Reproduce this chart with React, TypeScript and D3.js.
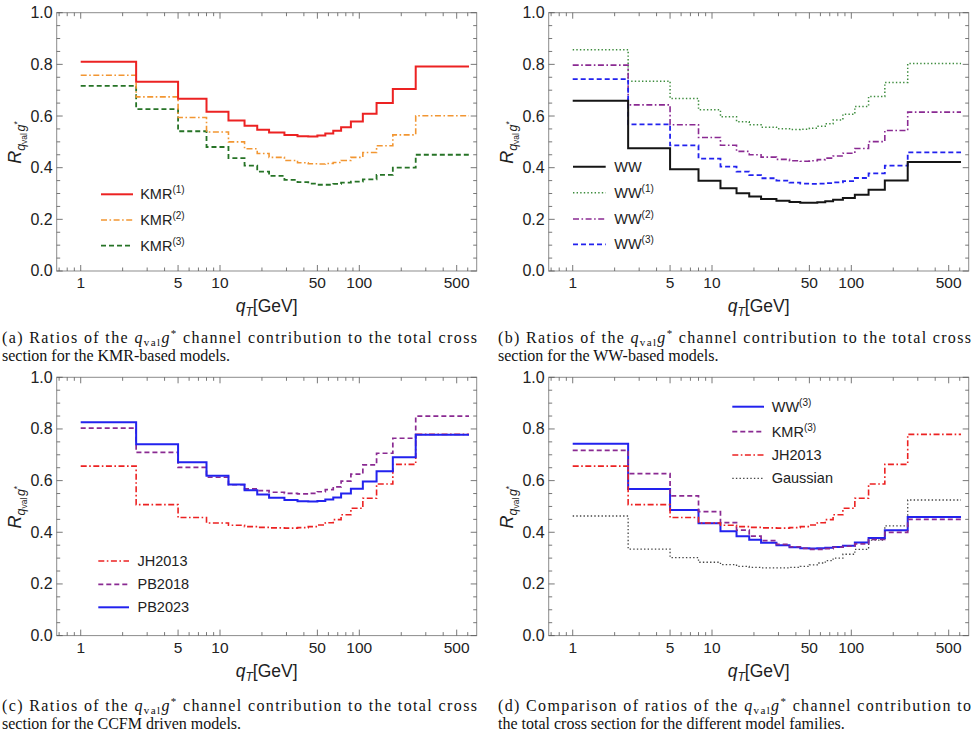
import React from "react";
import * as d3 from "d3";

// Bin edges of the q_T histogram (GeV); each series holds one value per bin.
const qtEdges = [1, 2.5, 5, 8, 11.5, 15, 18.5, 22.5, 29, 36, 43, 50, 57, 65, 74, 87, 106, 133, 174, 254, 613];

const kmr1 = [0.810, 0.733, 0.667, 0.617, 0.583, 0.562, 0.547, 0.536, 0.527, 0.522, 0.521, 0.525, 0.532, 0.543, 0.557, 0.579, 0.609, 0.650, 0.705, 0.792];
const kmr2 = [0.758, 0.674, 0.594, 0.538, 0.500, 0.473, 0.455, 0.440, 0.428, 0.419, 0.415, 0.414, 0.416, 0.420, 0.428, 0.440, 0.459, 0.485, 0.527, 0.601];
const kmr3 = [0.717, 0.627, 0.541, 0.480, 0.437, 0.408, 0.385, 0.368, 0.353, 0.344, 0.338, 0.334, 0.334, 0.337, 0.342, 0.346, 0.355, 0.372, 0.400, 0.450];

const ww = [0.659, 0.475, 0.394, 0.349, 0.320, 0.301, 0.288, 0.279, 0.272, 0.267, 0.264, 0.264, 0.266, 0.270, 0.276, 0.283, 0.295, 0.315, 0.350, 0.422];
const ww1 = [0.857, 0.735, 0.668, 0.624, 0.597, 0.578, 0.566, 0.557, 0.551, 0.548, 0.549, 0.553, 0.560, 0.570, 0.585, 0.607, 0.637, 0.676, 0.730, 0.803];
const ww2 = [0.797, 0.643, 0.566, 0.517, 0.487, 0.463, 0.450, 0.441, 0.432, 0.427, 0.425, 0.427, 0.431, 0.437, 0.445, 0.456, 0.474, 0.501, 0.544, 0.615];
const ww3 = [0.743, 0.568, 0.486, 0.435, 0.404, 0.385, 0.371, 0.359, 0.350, 0.342, 0.338, 0.337, 0.338, 0.340, 0.343, 0.348, 0.360, 0.378, 0.408, 0.459];

const pb2023 = [0.826, 0.741, 0.671, 0.619, 0.585, 0.563, 0.546, 0.534, 0.525, 0.520, 0.519, 0.521, 0.527, 0.535, 0.550, 0.569, 0.597, 0.636, 0.690, 0.778];
const pb2018 = [0.803, 0.709, 0.651, 0.613, 0.584, 0.568, 0.561, 0.555, 0.551, 0.549, 0.551, 0.557, 0.565, 0.576, 0.598, 0.625, 0.661, 0.706, 0.764, 0.850];
const jh2013 = [0.656, 0.507, 0.457, 0.436, 0.427, 0.422, 0.419, 0.417, 0.416, 0.418, 0.422, 0.428, 0.437, 0.449, 0.468, 0.493, 0.532, 0.587, 0.663, 0.779];
const gaussian = [0.463, 0.335, 0.302, 0.284, 0.275, 0.268, 0.264, 0.262, 0.262, 0.264, 0.268, 0.274, 0.281, 0.290, 0.300, 0.315, 0.334, 0.370, 0.425, 0.525];

const xMajorTicks = [1, 5, 10, 50, 100, 500];
const xMinorTicks = [0.7, 0.8, 0.9, 2, 3, 4, 6, 7, 8, 9, 20, 30, 40, 60, 70, 80, 90, 200, 300, 400, 600];
const yMajorTicks = [0, 0.2, 0.4, 0.6, 0.8, 1.0];
const yMinorTicks = d3.range(0, 1.0001, 0.05).filter((v) => Math.abs(v * 5 - Math.round(v * 5)) > 1e-6);

const W = 977;
const H = 754;
const PW = 420;
const PH = 258.3;
const SANS = "'Liberation Sans', Arial, sans-serif";
const SERIF = "'Liberation Serif', 'DejaVu Serif', serif";

const DASHDOT = "6,2.5,1.6,2.5";
const DASH = "5,3";
const DOT = "1.4,2.2";

type Series = {
  label: string;
  sup?: string;
  values: number[];
  color: string;
  width: number;
  dash?: string;
};

type PanelSpec = {
  x: number;
  y: number;
  series: Series[];
  legend: { x0: number; x1: number; tx: number; rows: number[]; order: number[] };
  caption: { tag: string; post1: string; line2: string };
};

const RED = "#ec2222";
const PURPLE = "#8a2a92";
const BLUE = "#2222ee";

const panels: PanelSpec[] = [
  {
    x: 56.7,
    y: 12.7,
    series: [
      { label: "KMR", sup: "(3)", values: kmr3, color: "#267326", width: 1.8, dash: DASH },
      { label: "KMR", sup: "(2)", values: kmr2, color: "#f29632", width: 1.6, dash: DASHDOT },
      { label: "KMR", sup: "(1)", values: kmr1, color: RED, width: 2 },
    ],
    legend: { x0: 44.3, x1: 76.3, tx: 83.5, rows: [181.6, 207.3, 233], order: [2, 1, 0] },
    caption: {
      tag: "(a) Ratios of the ",
      post1: " channel contribution to the total cross",
      line2: "section for the KMR-based models.",
    },
  },
  {
    x: 548.7,
    y: 12.7,
    series: [
      { label: "WW", sup: "(1)", values: ww1, color: "#3d8c3d", width: 1.5, dash: DOT },
      { label: "WW", sup: "(2)", values: ww2, color: PURPLE, width: 1.6, dash: DASHDOT },
      { label: "WW", sup: "(3)", values: ww3, color: BLUE, width: 1.8, dash: DASH },
      { label: "WW", values: ww, color: "#151515", width: 2 },
    ],
    legend: { x0: 24.3, x1: 57, tx: 65.5, rows: [154, 180, 206.3, 231.6], order: [3, 0, 1, 2] },
    caption: {
      tag: "(b) Ratios of the ",
      post1: " channel contribution to the total cross",
      line2: "section for the WW-based models.",
    },
  },
  {
    x: 56.7,
    y: 377.3,
    series: [
      { label: "JH2013", values: jh2013, color: RED, width: 1.6, dash: DASHDOT },
      { label: "PB2018", values: pb2018, color: PURPLE, width: 1.7, dash: DASH },
      { label: "PB2023", values: pb2023, color: BLUE, width: 2 },
    ],
    legend: { x0: 41.6, x1: 72.3, tx: 80.8, rows: [183.7, 207, 230], order: [0, 1, 2] },
    caption: {
      tag: "(c) Ratios of the ",
      post1: " channel contribution to the total cross",
      line2: "section for the CCFM driven models.",
    },
  },
  {
    x: 548.7,
    y: 377.3,
    series: [
      { label: "Gaussian", values: gaussian, color: "#444444", width: 1.3, dash: DOT },
      { label: "WW", sup: "(3)", values: ww3, color: BLUE, width: 2 },
      { label: "KMR", sup: "(3)", values: kmr3, color: PURPLE, width: 1.7, dash: DASH },
      { label: "JH2013", values: jh2013, color: RED, width: 1.6, dash: DASHDOT },
    ],
    legend: { x0: 183.6, x1: 215.3, tx: 223, rows: [29.4, 54.4, 77.7, 101], order: [1, 2, 3, 0] },
    caption: {
      tag: "(d) Comparison of ratios of the ",
      post1: " channel contribution to",
      line2: "the total cross section for the different model families.",
    },
  },
];

const xScale = d3.scaleLog().domain([0.6725, 696]).range([0, PW]);
const yScale = d3.scaleLinear().domain([0, 1]).range([PH, 0]);

const stepLine = d3
  .line<[number, number]>()
  .x((d) => xScale(d[0]))
  .y((d) => yScale(d[1]))
  .curve(d3.curveStepAfter);

function stepPath(values: number[]): string {
  const pts: [number, number][] = qtEdges.map((e, i) => [e, values[Math.min(i, values.length - 1)]]);
  return stepLine(pts) || "";
}

const FRAME = "#8c8c8c";
const TICK = "#555";
const LABEL = "#222";

function Axes() {
  const majLen = 6;
  const minLen = 3.5;
  const xTicks = [
    ...xMajorTicks.map((v) => ({ v, len: majLen })),
    ...xMinorTicks.map((v) => ({ v, len: minLen })),
  ];
  const yTicks = [
    ...yMajorTicks.map((v) => ({ v, len: majLen })),
    ...yMinorTicks.map((v) => ({ v, len: minLen })),
  ];
  return (
    <g>
      <rect x={0} y={0} width={PW} height={PH} fill="none" stroke={FRAME} strokeWidth={1} />
      {xTicks.map((t, i) => {
        const x = xScale(t.v);
        return (
          <g key={"x" + i} stroke={TICK} strokeWidth={0.8}>
            <line x1={x} x2={x} y1={PH} y2={PH - t.len} />
            <line x1={x} x2={x} y1={0} y2={t.len} />
          </g>
        );
      })}
      {yTicks.map((t, i) => {
        const y = yScale(t.v);
        return (
          <g key={"y" + i} stroke={TICK} strokeWidth={0.8}>
            <line x1={0} x2={t.len} y1={y} y2={y} />
            <line x1={PW} x2={PW - t.len} y1={y} y2={y} />
          </g>
        );
      })}
      {xMajorTicks.map((v) => (
        <text
          key={"xl" + v}
          x={xScale(v)}
          y={PH + 17.3}
          textAnchor="middle"
          fontFamily={SANS}
          fontSize={15.5}
          fill={LABEL}
        >
          {String(v)}
        </text>
      ))}
      {yMajorTicks.map((v) => (
        <text
          key={"yl" + v}
          x={-4}
          y={yScale(v) + 5.5}
          textAnchor="end"
          fontFamily={SANS}
          fontSize={16}
          fill={LABEL}
        >
          {v.toFixed(1)}
        </text>
      ))}
      {/* x-axis title */}
      <text x={PW / 2} y={PH + 41} textAnchor="middle" fontFamily={SANS} fontSize={17.5} fill={LABEL}>
        <tspan fontStyle="italic">q</tspan>
        <tspan fontStyle="italic" fontSize={12} dy={4}>T</tspan>
        <tspan dy={-4}>[GeV]</tspan>
      </text>
      {/* y-axis title */}
      <text
        transform={`translate(${-35.5},${PH / 2 + 22}) rotate(-90)`}
        fontFamily={SANS}
        fontSize={18}
        fill={LABEL}
      >
        <tspan fontStyle="italic">R</tspan>
        <tspan fontStyle="italic" fontSize={12.5} dy={3.5}>q</tspan>
        <tspan fontSize={8.5} dy={2.5}>val</tspan>
        <tspan fontStyle="italic" fontSize={12.5} dy={-2.5} dx={1.5}>g</tspan>
        <tspan fontSize={8.5} dy={-5}>*</tspan>
      </text>
    </g>
  );
}

function Legend({ spec }: { spec: PanelSpec }) {
  const { legend, series } = spec;
  return (
    <g>
      {legend.order.map((si, r) => {
        const s = series[si];
        const y = legend.rows[r];
        return (
          <g key={"lg" + r}>
            <line
              x1={legend.x0}
              x2={legend.x1}
              y1={y}
              y2={y}
              stroke={s.color}
              strokeWidth={s.width}
              strokeDasharray={s.dash}
            />
            <text x={legend.tx} y={y + 5} fontFamily={SANS} fontSize={14.5} fill={LABEL}>
              {s.label}
              {s.sup ? (
                <tspan fontSize={10} dy={-6}>
                  {s.sup}
                </tspan>
              ) : null}
            </text>
          </g>
        );
      })}
    </g>
  );
}

function Caption({ spec, x, y, width }: { spec: PanelSpec; x: number; y: number; width: number }) {
  const c = spec.caption;
  return (
    <g fontFamily={SERIF} fontSize={16} fill="#111">
      <text x={x} y={y} textLength={width} lengthAdjust="spacing">
        {c.tag}
        <tspan fontStyle="italic">q</tspan>
        <tspan fontSize={11} dy={3}>val</tspan>
        <tspan fontStyle="italic" dy={-3}>g</tspan>
        <tspan fontSize={11} dy={-6}>*</tspan>
        <tspan dy={6}>{c.post1}</tspan>
      </text>
      <text x={x} y={y + 17.5}>
        {c.line2}
      </text>
    </g>
  );
}

function Panel({ spec }: { spec: PanelSpec }) {
  return (
    <g transform={`translate(${spec.x},${spec.y})`}>
      <Axes />
      <g fill="none">
        {spec.series.map((s, i) => (
          <path
            key={"s" + i}
            d={stepPath(s.values)}
            stroke={s.color}
            strokeWidth={s.width}
            strokeDasharray={s.dash}
            strokeLinejoin="miter"
          />
        ))}
      </g>
      <Legend spec={spec} />
    </g>
  );
}

export default function App() {
  return (
    <svg
      width={W}
      height={H}
      viewBox={`0 0 ${W} ${H}`}
      style={{ position: "absolute", left: 0, top: 0, background: "#fff" }}
    >
      <rect x={0} y={0} width={W} height={H} fill="#fff" />
      {panels.map((p, i) => (
        <Panel key={i} spec={p} />
      ))}
      <Caption spec={panels[0]} x={2} y={343} width={475} />
      <Caption spec={panels[1]} x={498} y={343} width={473} />
      <Caption spec={panels[2]} x={2} y={711} width={475} />
      <Caption spec={panels[3]} x={498} y={711} width={473} />
    </svg>
  );
}
